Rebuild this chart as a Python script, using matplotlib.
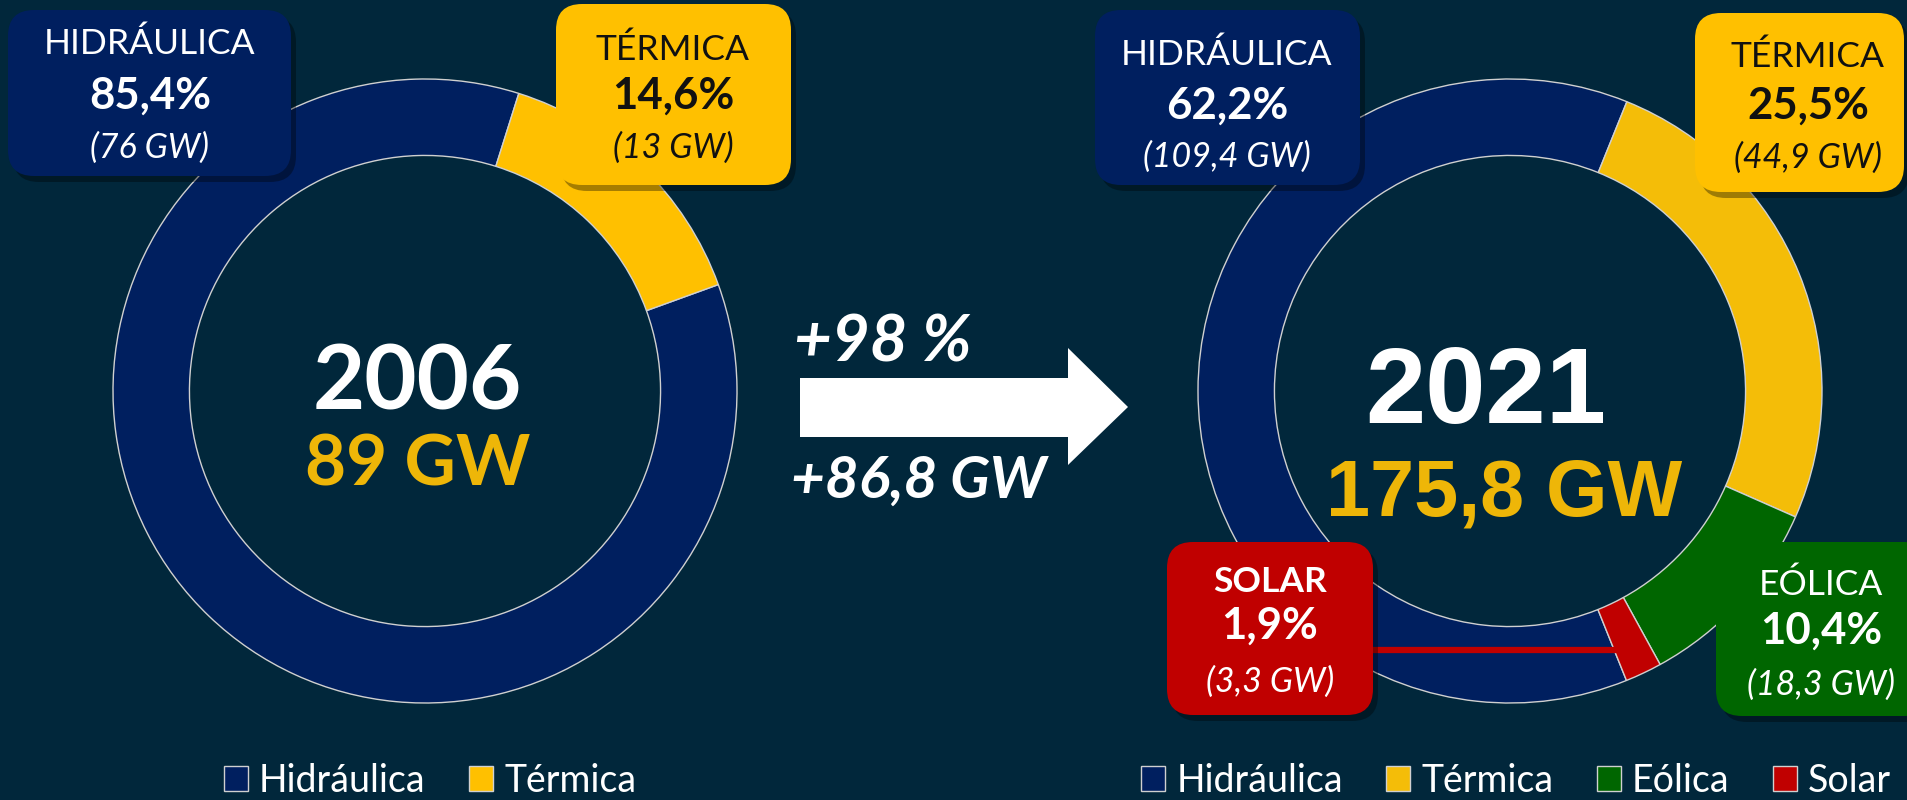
import numpy as np
import matplotlib.pyplot as plt
from matplotlib.patches import FancyBboxPatch, Polygon

# Data
cats_2006 = ["Hidráulica", "Térmica"]
pct_2006 = [85.4, 14.6]
gw_2006 = [76, 13]
total_2006 = "89 GW"

cats_2021 = ["Hidráulica", "Térmica", "Eólica", "Solar"]
pct_2021 = [62.2, 25.5, 10.4, 1.9]
gw_2021 = [109.4, 44.9, 18.3, 3.3]
total_2021 = "175,8 GW"

growth_pct = "+98 %"
growth_gw = "+86,8 GW"

# Colours
BG = "#01273B"
HYD = "#001F5F"
TER = "#FFC000"
TER2 = "#F4BD08"
EOL = "#006600"
SOL = "#C00000"
GOLD = "#EEB608"
EDGE = "#D0D0D0"

W, H = 1908, 800
R = 312
FONT = "Lato"

fig = plt.figure(figsize=(W / 100, H / 100), dpi=100, facecolor=BG)


def donut(cx, cy, values, colors, top_deg):
    ax = fig.add_axes([(cx - R) / W, 1 - (cy + R) / H, 2 * R / W, 2 * R / H])
    ax.set_facecolor("none")
    # first slice ends at top_deg (clockwise from 12 o'clock)
    start = 90 - top_deg + values[0] / sum(values) * 360
    wedges, _ = ax.pie(values, colors=colors, startangle=start, counterclock=False,
                       wedgeprops=dict(width=0.245, edgecolor=EDGE, linewidth=1))
    ax.set_xlim(-1, 1)
    ax.set_ylim(-1, 1)
    for w in wedges:
        w.set_clip_on(False)
    return wedges


w06 = donut(425, 391, pct_2006, [HYD, TER], 17.5)
w21 = donut(1510, 391, pct_2021, [HYD, TER2, EOL, SOL], 22)

# overlay in pixel coordinates
ov = fig.add_axes([0, 0, 1, 1])
ov.set_xlim(0, W)
ov.set_ylim(H, 0)
ov.axis("off")
ov.patch.set_alpha(0)


def fmt_pct(p):
    return f"{p:.1f}%".replace(".", ",")


def fmt_gw(g):
    return f"({g:g} GW)".replace(".", ",")


def label_box(box, color, x, ys, title, pct, gw, tcolor="white", title_bold=False):
    x0, y0, x1, y1 = box
    ov.add_patch(FancyBboxPatch((x0 + 5, y0 + 6), x1 - x0, y1 - y0,
                                boxstyle="round,pad=0,rounding_size=26",
                                fc="black", ec="none", alpha=0.35, zorder=3))
    ov.add_patch(FancyBboxPatch((x0, y0), x1 - x0, y1 - y0,
                                boxstyle="round,pad=0,rounding_size=26",
                                fc=color, ec="none", zorder=4))
    ov.text(x, ys[0], title, ha="center", va="baseline", color=tcolor, family=FONT,
            fontsize=25.5, fontweight="bold" if title_bold else "normal", zorder=5)
    ov.text(x, ys[1], fmt_pct(pct), ha="center", va="baseline", color=tcolor,
            family=FONT, fontsize=31.5, fontweight="bold", zorder=5)
    ov.text(x, ys[2], fmt_gw(gw), ha="center", va="baseline", color=tcolor,
            family=FONT, fontsize=24.5, fontstyle="italic", zorder=5)


# solar connector line
sol = w21[3]
mid = np.deg2rad((sol.theta1 + sol.theta2) / 2)
r_px = (650 - 391) / (-np.sin(mid))
x_end = 1510 + r_px * np.cos(mid)
ov.plot([1373, x_end], [650, 650], color=SOL, lw=4.5, solid_capstyle="butt", zorder=2)

label_box((8, 10, 291, 176), HYD, 150, (54, 109, 158), "HIDRÁULICA", pct_2006[0], gw_2006[0])
label_box((556, 4, 791, 185), TER, 673, (60, 109, 158), "TÉRMICA", pct_2006[1], gw_2006[1],
          tcolor="#111111")
label_box((1095, 10, 1360, 185), HYD, 1227, (65, 119, 167), "HIDRÁULICA", pct_2021[0], gw_2021[0])
label_box((1695, 13, 1904, 192), TER, 1808, (67, 119, 168), "TÉRMICA", pct_2021[1], gw_2021[1],
          tcolor="#111111")
label_box((1716, 542, 1930, 716), EOL, 1821, (595, 644, 695), "EÓLICA", pct_2021[2], gw_2021[2])
label_box((1167, 542, 1373, 715), SOL, 1270, (592, 639, 692), "SOLAR", pct_2021[3], gw_2021[3],
          title_bold=True)

# centre texts
ov.text(417, 410, "2006", ha="center", va="baseline", color="white", family=FONT,
        fontsize=65, fontweight="bold")
ov.text(418, 486, total_2006, ha="center", va="baseline", color=GOLD, family=FONT,
        fontsize=51, fontweight="bold")
ov.text(1486, 423, "2021", ha="center", va="baseline", color="white",
        family="Liberation Sans", fontsize=78, fontweight="bold")
ov.text(1504, 515, total_2021, ha="center", va="baseline", color=GOLD,
        family="Liberation Sans", fontsize=57, fontweight="bold")

# growth arrow
ov.add_patch(Polygon([(800, 378), (1068, 378), (1068, 348), (1128, 407),
                      (1068, 465), (1068, 437), (800, 437)], closed=True,
                     fc="white", ec="none"))
ov.text(883, 362, growth_pct, ha="center", va="baseline", color="white", family=FONT,
        fontsize=47, fontweight="bold", fontstyle="italic")
ov.text(919, 498, growth_gw, ha="center", va="baseline", color="white", family=FONT,
        fontsize=42, fontweight="bold", fontstyle="italic")

# legends
for wedges, cats, cx in [(w06, cats_2006, 430), (w21, cats_2021, 1516)]:
    fig.legend(handles=wedges, labels=cats, loc="center", bbox_to_anchor=(cx / W, 1 - 781 / H),
               ncol=len(cats), frameon=False, prop=dict(family=FONT, size=27),
               labelcolor="white", handlelength=0.64, handleheight=0.64,
               handletextpad=0.3, columnspacing=1.15, borderpad=0, borderaxespad=0)

fig.savefig("out.png", dpi=100, facecolor=BG)
